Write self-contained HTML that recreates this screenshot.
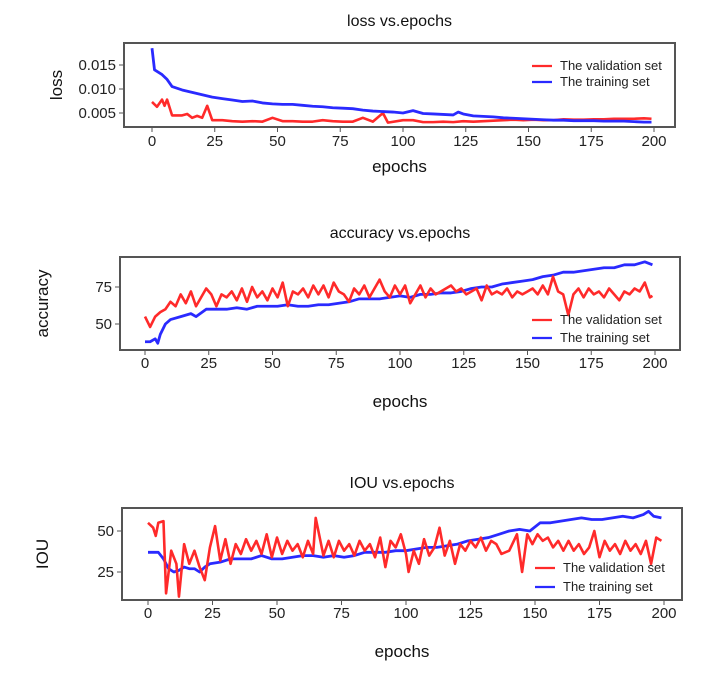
<!DOCTYPE html>
<html><head><meta charset="utf-8"><style>
body{margin:0;background:#fff;}
svg{display:block;font-family:"Liberation Sans",Arial,sans-serif;}
</style></head><body>
<svg id="s" width="707" height="674" viewBox="0 0 707 674"></svg>
<script>
// ---- loss chart data (values in 1e-3) ----
const lossTrainEpochs=[0,1,4,6,8,12,16,20,24,28,32,36,40,44,48,52,56,60,64,68,72,76,80,84,88,92,96,100,104,108,112,116,120,122,124,128,132,136,140,144,148,152,156,160,164,168,172,176,180,184,188,192,196,199];
const lossTrain=[18.5,14,13,12,10.5,9.8,9.3,8.8,8.3,8.0,7.7,7.4,7.5,7.1,6.9,6.8,6.8,6.6,6.4,6.3,6.1,6.0,5.9,5.6,5.4,5.3,5.2,5.0,5.5,4.9,4.8,4.7,4.6,5.2,4.8,4.4,4.3,4.2,4.0,3.9,3.8,3.7,3.6,3.5,3.5,3.4,3.4,3.4,3.3,3.3,3.3,3.2,3.1,3.1];
const lossValEpochs=[0,2,4,5,6,8,12,14,16,18,20,22,24,28,32,36,40,44,48,52,56,60,64,68,72,76,80,84,88,92,94,100,104,108,112,116,120,124,128,132,136,140,144,148,152,156,160,164,168,172,176,180,184,188,192,196,199];
const lossVal=[7.3,6.3,7.8,6.5,7.8,4.5,4.5,4.8,4.0,4.4,4.0,6.5,3.5,3.5,3.3,3.2,3.3,3.2,4.0,3.3,3.3,3.2,3.2,3.5,3.3,3.2,3.2,4.0,3.2,5.0,3.0,3.5,3.5,3.1,3.1,3.2,3.1,3.3,3.2,3.3,3.4,3.5,3.6,3.5,3.6,3.5,3.5,3.7,3.6,3.6,3.7,3.7,3.8,3.8,3.8,3.9,3.8];
const lossTicks=[5,10,15];
const lossTickLabels=["0.005","0.010","0.015"];
// ---- accuracy chart data ----
const accTrainEpochs=[0,2,4,5,6,8,10,14,18,20,24,28,32,36,40,44,48,52,56,60,64,68,72,76,80,84,88,92,96,100,104,108,112,116,120,124,128,132,136,140,144,148,152,156,160,164,168,172,176,180,184,188,192,196,199];
const accTrain=[38,38,40,37,43,50,53,55,57,55,60,60,60,61,60,62,62,62,63,62,62,63,63,64,65,67,67,67,68,69,68,70,70,71,71,72,74,75,75,77,78,79,80,82,83,85,85,86,87,88,88,90,90,92,90];
const accValEpochs=[0,2,4,6,8,10,12,14,16,18,20,22,24,26,28,30,32,34,36,38,40,42,44,46,48,50,52,54,56,58,60,62,64,66,68,70,72,74,76,78,80,82,84,86,88,90,92,94,96,98,100,102,104,106,108,110,112,114,116,118,120,122,124,126,128,130,132,134,136,138,140,142,144,146,148,150,152,154,156,158,160,162,164,166,168,170,172,174,176,178,180,182,184,186,188,190,192,194,196,198,199];
const accVal=[55,48,55,58,60,65,62,70,64,72,62,68,74,70,62,70,68,72,66,74,65,75,68,72,66,74,68,78,62,72,70,74,68,76,70,76,68,78,72,70,65,74,70,76,68,74,80,72,68,76,70,76,64,70,76,68,74,70,72,74,76,72,74,70,72,74,66,76,70,72,70,74,68,72,70,72,74,70,76,70,82,72,70,56,70,74,68,74,70,72,68,74,70,66,72,70,74,72,78,68,69];
const accTicks=[50,75];
const accTickLabels=["50","75"];
// ---- IOU chart data ----
const iouTrainEpochs=[0,4,6,8,10,12,14,16,18,20,22,24,28,32,36,40,44,48,52,56,60,64,68,72,76,80,84,88,92,96,100,104,108,112,116,120,124,128,132,136,140,144,148,152,156,160,164,168,172,176,180,184,188,192,194,196,199];
const iouTrain=[37,37,33,27,25,26,28,27,27,25,28,30,31,33,33,33,35,33,33,34,35,35,34,35,34,35,37,37,37,38,38,39,40,40,41,42,44,45,46,48,50,51,50,55,55,56,57,58,57,57,58,59,58,60,62,59,58];
const iouValEpochs=[0,2,3,4,6,7,9,11,12,14,16,18,20,22,24,26,28,30,32,34,36,38,40,42,44,46,48,50,52,54,56,58,60,62,64,65,68,70,72,74,76,78,80,82,84,86,88,90,92,94,96,98,100,101,103,105,107,109,111,113,115,117,119,121,123,125,127,129,131,133,135,137,140,143,145,147,149,151,153,155,157,159,161,163,165,167,169,171,173,175,177,179,181,183,185,187,189,191,193,195,197,199];
const iouVal=[55,52,47,55,56,12,38,30,10,42,30,38,28,20,40,53,32,45,30,42,36,45,38,44,36,48,34,46,36,44,38,42,34,44,36,58,35,44,34,44,38,42,35,44,38,42,34,46,28,44,40,48,36,25,38,30,45,35,40,52,35,44,30,42,38,44,40,46,38,44,42,36,38,48,25,48,42,48,44,46,40,44,38,44,38,42,36,40,50,34,44,38,42,36,44,38,42,36,44,30,46,44];
const iouTicks=[25,50];
const iouTickLabels=["25","50"];
const xTicks=[0,25,50,75,100,125,150,175,200];

const NS="http://www.w3.org/2000/svg";
const svg=document.getElementById('s');
function mk(tag,attrs,parent){const e=document.createElementNS(NS,tag);for(const k in attrs)e.setAttribute(k,attrs[k]);(parent||svg).appendChild(e);return e;}

const charts=[
 {id:'loss',title:'loss vs.epochs',ylab:'loss',box:[124,43,675,127],x0:152,x200:654,yA:[5,113],yB:[15,65],
  tE:lossTrainEpochs,tV:lossTrain,vE:lossValEpochs,vV:lossVal,ticks:lossTicks,tl:lossTickLabels,
  titleY:26,tickY:146,epY:172,ylx:62,legY:[66,82],legX:532},
 {id:'accuracy',title:'accuracy vs.epochs',ylab:'accuracy',box:[120,257,680,350],x0:145,x200:655,yA:[50,324],yB:[75,287],
  tE:accTrainEpochs,tV:accTrain,vE:accValEpochs,vV:accVal,ticks:accTicks,tl:accTickLabels,
  titleY:238,tickY:368,epY:407,ylx:48,legY:[320,338],legX:532},
 {id:'iou',title:'IOU vs.epochs',ylab:'IOU',box:[122,508,682,600],x0:148,x200:664,yA:[25,572],yB:[50,531],
  tE:iouTrainEpochs,tV:iouTrain,vE:iouValEpochs,vV:iouVal,ticks:iouTicks,tl:iouTickLabels,
  titleY:488,tickY:618,epY:657,ylx:48,legY:[568,587],legX:535}
];

charts.forEach(c=>{
  const g=mk('g',{});
  
  
  const xs=e=>c.x0+(c.x200-c.x0)*e/200;
  const ys=v=>c.yA[1]+(v-c.yA[0])*(c.yB[1]-c.yA[1])/(c.yB[0]-c.yA[0]);
  const [bx1,by1,bx2,by2]=c.box;
  const t=mk('text',{x:(bx1+bx2)/2,y:c.titleY,'text-anchor':'middle','font-size':16,fill:'#111'},g);
  t.textContent=c.title;
  
  
  const cp=mk('clipPath',{id:'cp'+c.id},g);
  mk('rect',{x:bx1,y:by1,width:bx2-bx1,height:by2-by1},cp);
  const lg=mk('g',{'clip-path':'url(#cp'+c.id+')'},g);
  const tr=mk('polyline',{points:c.tE.map((e,i)=>xs(e)+','+ys(c.tV[i])).join(' '),fill:'none',stroke:'#2a2aff','stroke-width':2.8,'stroke-linejoin':'round'},lg);
  
  
  const va=mk('polyline',{points:c.vE.map((e,i)=>xs(e)+','+ys(c.vV[i])).join(' '),fill:'none',stroke:'#ff2a2a','stroke-width':2.6,'stroke-linejoin':'round'},lg);
  
  
  if(c.id==='loss'){lg.insertBefore(va,tr);}
  const box=mk('rect',{x:bx1,y:by1,width:bx2-bx1,height:by2-by1,fill:'none',stroke:'#555','stroke-width':2},g);
  
  
  xTicks.forEach(v=>{
    mk('line',{x1:xs(v),x2:xs(v),y1:by2,y2:by2+5,stroke:'#555','stroke-width':1},g);
    const tx=mk('text',{x:xs(v),y:c.tickY,'text-anchor':'middle','font-size':15,fill:'#222'},g);
    tx.textContent=v;
    
    
  });
  c.ticks.forEach((v,i)=>{
    mk('line',{x1:bx1-5,x2:bx1,y1:ys(v),y2:ys(v),stroke:'#555','stroke-width':1},g);
    const ty=mk('text',{x:bx1-8,y:ys(v)+5,'text-anchor':'end','font-size':15,fill:'#222'},g);
    ty.textContent=c.tl[i];
    
    
  });
  const ep=mk('text',{x:(bx1+bx2)/2,y:c.epY,'text-anchor':'middle','font-size':17,fill:'#111'},g);
  ep.textContent='epochs';
  
  
  const yl=mk('text',{x:c.ylx,y:(by1+by2)/2,'text-anchor':'middle','font-size':17,fill:'#111',transform:'rotate(-90 '+c.ylx+' '+(by1+by2)/2+')'},g);
  yl.textContent=c.ylab;
  
  
  [['The validation set','#ff2a2a'],['The training set','#2a2aff']].forEach((L,i)=>{
    const le=mk('g',{},g);
    
    
    mk('line',{x1:c.legX,x2:c.legX+20,y1:c.legY[i],y2:c.legY[i],stroke:L[1],'stroke-width':2.2},le);
    const lt=mk('text',{x:c.legX+28,y:c.legY[i]+4,'font-size':13,fill:'#222'},le);
    lt.textContent=L[0];
  });
});
</script>
</body></html>
